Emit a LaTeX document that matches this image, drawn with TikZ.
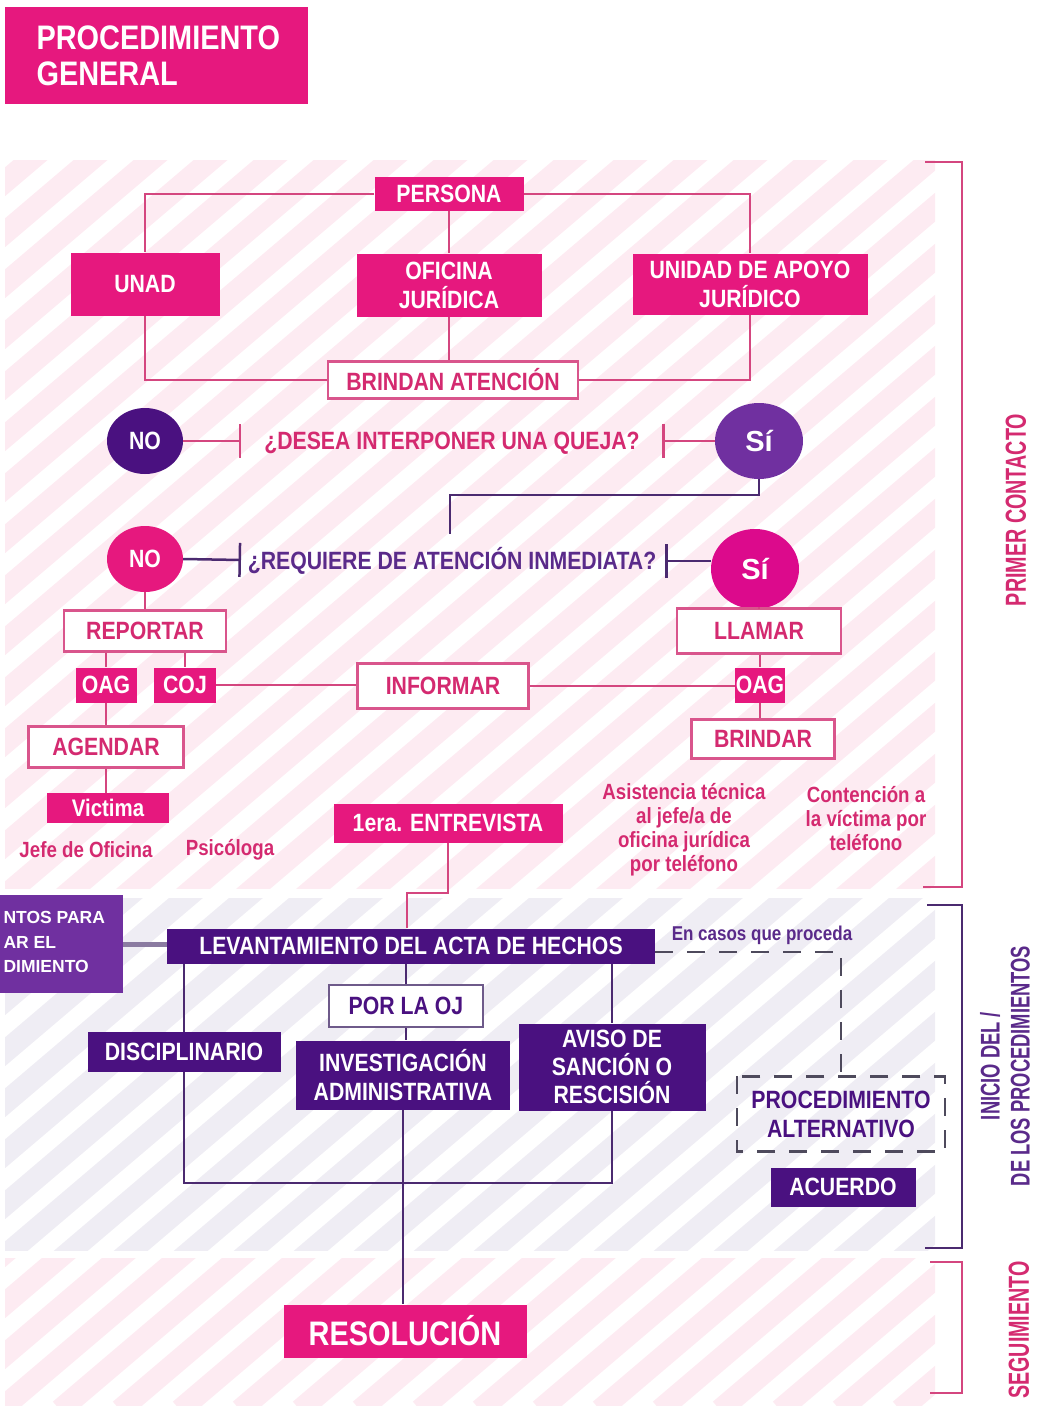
\documentclass[tikz,border=0pt]{standalone}
\usepackage{fontspec}
\setmainfont{Liberation Sans}
\newfontfamily\cond[FakeStretch=0.85]{Liberation Sans}
\usetikzlibrary{arrows.meta,shapes.geometric}
\definecolor{pinkM}{HTML}{E6187E}
\definecolor{pinkS}{HTML}{DC0A8C}
\definecolor{pinkB}{HTML}{D9558C}
\definecolor{pinkT}{HTML}{D42A70}
\definecolor{pinkC}{HTML}{D4467F}
\definecolor{purD}{HTML}{4A1180}
\definecolor{purM}{HTML}{7030A0}
\definecolor{purT}{HTML}{5A2A8A}
\definecolor{purC}{HTML}{4B2A70}
\definecolor{purB}{HTML}{6E5A8A}
\definecolor{grayD}{HTML}{4E4A5C}
\definecolor{stripeP}{HTML}{FDEBF2}
\definecolor{stripeL}{HTML}{EFEDF4}
\newcommand\fsz[2]{\fontsize{#1}{#2}\selectfont}
\tikzset{
  sz/.style 2 args={minimum width=#1pt, minimum height=#2pt},
  basebox/.style={inner sep=0pt, align=center, font=\cond\bfseries\fsz{25}{29}},
  pinkfill/.style={basebox, fill=pinkM, text=white},
  purfill/.style={basebox, fill=purD, text=white},
  pinkout/.style={basebox, draw=pinkB, line width=2.5pt, fill=white, text=pinkT},
  purout/.style={basebox, draw=purB, line width=2.5pt, fill=white, text=purD},
  conn/.style={draw=pinkC, line width=2.5pt},
  pconn/.style={draw=purC, line width=2.5pt},
  circ/.style={ellipse, inner sep=0pt, text=white},
  smalltxt/.style={align=center, text=pinkT, font=\cond\bfseries\fsz{22}{24}},
  sidelbl/.style={rotate=90, align=center, font=\cond\bfseries\fsz{29}{30}},
  stripe/.style={line width=22pt},
  bartip/.style={-{Bar[width=34pt]}},
  bartipL/.style={{Bar[width=34pt]}-},
}
\begin{document}
\begin{tikzpicture}[x=1pt,y=-1pt]
\useasboundingbox (0,0) rectangle (1045,1410);
% background stripes
\begin{scope}
  \clip (5,160) rectangle (935,888);
  \foreach \i in {-900,-840,...,960} \draw[stripe,stripeP] (\i,900) -- ++(1000,-850);
\end{scope}
\begin{scope}
  \clip (5,898) rectangle (935,1250);
  \foreach \i in {-600,-540,...,960} \draw[stripe,stripeL] (\i,1260) -- ++(800,-680);
\end{scope}
\begin{scope}
  \clip (5,1258) rectangle (935,1405);
  \foreach \i in {-300,-240,...,960} \draw[stripe,stripeP] (\i,1410) -- ++(500,-425);
\end{scope}

% title
\node[fill=pinkM, sz={303}{97}] (titlebox) at (156.5,55.5) {};
\node[anchor=west, align=left, text=white, font=\cond\bfseries\fsz{34}{36}] (title) at (33,56) {PROCEDIMIENTO\\GENERAL};

% section brackets
\draw[pinkC, line width=2.5pt] (925,162) -- (962,162) -- (962,887) -- (923,887);
\draw[purC, line width=2.5pt] (927,905) -- (962,905) -- (962,1248) -- (925,1248);
\draw[pinkC, line width=2.5pt] (930,1262) -- (962,1262) -- (962,1393) -- (930,1393);
\node[sidelbl, text=pinkT] (lblprimer) at (1016,510) {\scalebox{0.8}[1]{PRIMER CONTACTO}};
\node[sidelbl, text=purT, font=\cond\bfseries\fsz{27}{30}] (lblinicio) at (1005,1066) {\scalebox{0.8}[1]{INICIO DEL /}\\\scalebox{0.8}[1]{DE LOS PROCEDIMIENTOS}};
\node[sidelbl, text=pinkT] (lblseg) at (1019,1330) {\scalebox{0.8}[1]{SEGUIMIENTO}};

% top block
\node[pinkfill, sz={149}{34}] (persona) at (449,194) {PERSONA};
\node[pinkfill, sz={149}{63}] (unad) at (145,284) {UNAD};
\node[pinkfill, sz={185}{63}] (oj) at (449,285) {OFICINA\\JURÍDICA};
\node[pinkfill, sz={235}{61}] (uaj) at (750,284) {UNIDAD DE APOYO\\JURÍDICO};
\node[pinkout, sz={250}{37}] (brindan) at (453,380) {BRINDAN ATENCIÓN};
\draw[conn] (persona.west) -| (unad.north);
\draw[conn] (persona.east) -| (uaj.north);
\draw[conn] (persona.south) -- (oj.north);
\draw[conn] (unad.south) |- (brindan.west);
\draw[conn] (uaj.south) |- (brindan.east);
\draw[conn] (oj.south) -- (oj.south |- brindan.north);

% question 1
\node[circ, fill=purD, sz={76}{66}, font=\cond\bfseries\fsz{25}{29}] (no1) at (145,441) {NO};
\node[text=pinkT, font=\cond\bfseries\fsz{25}{29}] (q1) at (452,443) {¿DESEA INTERPONER UNA QUEJA?};
\node[circ, fill=purM, sz={88}{76}, font=\bfseries\fsz{29}{30}] (si1) at (759,441) {Sí};
\coordinate (q1L) at (241,441);
\coordinate (q1R) at (662,441);
\draw[conn, bartip] (no1.east) -- (q1L);
\draw[conn, bartipL] (q1R) -- (si1.west);
\coordinate (jog1) at (450,495);
\coordinate (q2in) at (450,534);
\draw[pconn] (si1.south) |- (jog1) -- (q2in);

% question 2
\node[circ, fill=pinkM, sz={76}{66}, font=\cond\bfseries\fsz{25}{29}] (no2) at (145,559) {NO};
\node[text=purT, font=\cond\bfseries\fsz{25}{29}] (q2) at (452,561) {¿REQUIERE DE ATENCIÓN INMEDIATA?};
\node[circ, fill=pinkS, sz={88}{80}, font=\bfseries\fsz{29}{30}] (si2) at (755,569) {Sí};
\coordinate (q2L) at (241,560);
\coordinate (q2R) at (665,561);
\draw[pconn, bartip] (no2.east) -- (q2L);
\draw[pconn, bartipL] (q2R) -- (q2R -| si2.west);

% left branch
\node[pinkout, sz={162}{41}] (reportar) at (145,631) {REPORTAR};
\node[pinkfill, sz={61}{35}] (oag1) at (106,685) {OAG};
\node[pinkfill, sz={62}{35}] (coj) at (185,685) {COJ};
\node[pinkout, sz={155}{41}] (agendar) at (106,747) {AGENDAR};
\node[pinkfill, sz={122}{30}, font=\cond\bfseries\fsz{24}{28}] (victima) at (108,808) {Victima};
\node[smalltxt] (jefe) at (86,850) {Jefe de Oficina};
\node[smalltxt] (psico) at (230,850) {Psicóloga};
\draw[conn] (no2.south) -- (reportar.north);
\draw[conn] (oag1.north |- reportar.south) -- (oag1.north);
\draw[conn] (coj.north |- reportar.south) -- (coj.north);
\draw[conn] (oag1.south) -- (oag1.south |- agendar.north);
\draw[conn] (agendar.south -| oag1.south) -- (victima.north -| oag1.south);

% centre / right branch
\node[pinkout, sz={171}{45}] (informar) at (443,686) {INFORMAR};
\node[pinkout, sz={164}{45}] (llamar) at (759,631) {LLAMAR};
\node[pinkfill, sz={50}{35}] (oag2) at (760,685) {OAG};
\node[pinkout, sz={143}{39}] (brindar) at (763,739) {BRINDAR};
\node[smalltxt] (asist) at (684,830) {Asistencia técnica\\al jefe/a de\\oficina jurídica\\por teléfono};
\node[smalltxt] (conten) at (866,819) {Contención a\\la víctima por\\teléfono};
\draw[conn] (coj.east) -- (coj.east -| informar.west);
\draw[conn] (informar.east) -- (informar.east -| oag2.west);
\draw[conn] (llamar.north |- si2.south) -- (llamar.north);
\draw[conn] (llamar.south -| oag2.north) -- (oag2.north);
\draw[conn] (oag2.south) -- (oag2.south |- brindar.north);

% entrevista
\node[pinkfill, sz={229}{39}] (entrevista) at (448,823) {1era. ENTREVISTA};

% procedures block
\node[fill=purM, sz={123}{98}] (leftbox) at (61.5,944) {};
\node[anchor=west, align=left, text=white, font=\bfseries\fsz{17.5}{24.5}] (lefttxt) at (0,942) {NTOS PARA\\AR EL\\DIMIENTO};
\node[purfill, sz={488}{35}] (lev) at (411,946) {LEVANTAMIENTO DEL ACTA DE HECHOS};
\coordinate (jog2) at (407,893);
\draw[conn] (entrevista.south) |- (jog2) -- (jog2 |- lev.north);
\draw[draw=purB!80, line width=5pt] (leftbox.east) -- (leftbox.east -| lev.west);

\node[purout, sz={154}{42}] (porlaoj) at (406,1006) {POR LA OJ};
\node[purfill, sz={193}{40}] (disc) at (184,1052) {DISCIPLINARIO};
\node[purfill, sz={214}{69}] (inv) at (403,1075) {INVESTIGACIÓN\\ADMINISTRATIVA};
\node[purfill, sz={187}{87}, font=\cond\bfseries\fsz{25}{28}] (aviso) at (612,1067) {AVISO DE\\SANCIÓN O\\RESCISIÓN};
\node[basebox, text=purD, sz={208}{75}] (palt) at (841,1114) {PROCEDIMIENTO\\ALTERNATIVO};
\draw[grayD, line width=2.5pt, dash pattern=on 18pt off 14pt] (palt.north west) rectangle (palt.south east);
\node[purfill, sz={145}{39}] (acuerdo) at (843,1187) {ACUERDO};
\node[text=purT, font=\cond\bfseries\fsz{20}{22}] (encasos) at (762,935) {En casos que proceda};
\node[pinkfill, sz={243}{53}, font=\cond\bfseries\fsz{34}{36}] (resol) at (405,1331) {RESOLUCIÓN};

\coordinate (bus) at (407,1183);
\draw[pconn] (disc.north |- lev.south) -- (disc.north);
\draw[pconn] (porlaoj.north |- lev.south) -- (porlaoj.north);
\draw[pconn] (porlaoj.south) -- (porlaoj.south |- inv.north);
\draw[pconn] (aviso.north |- lev.south) -- (aviso.north);
\draw[pconn] (disc.south) |- (bus) -| (aviso.south);
\draw[pconn] (inv.south) -- (inv.south |- resol.north);
\draw[grayD, line width=2.5pt, dash pattern=on 18pt off 14pt] ([yshift=-6pt]lev.east) -| (palt.north);
\end{tikzpicture}
\end{document}
